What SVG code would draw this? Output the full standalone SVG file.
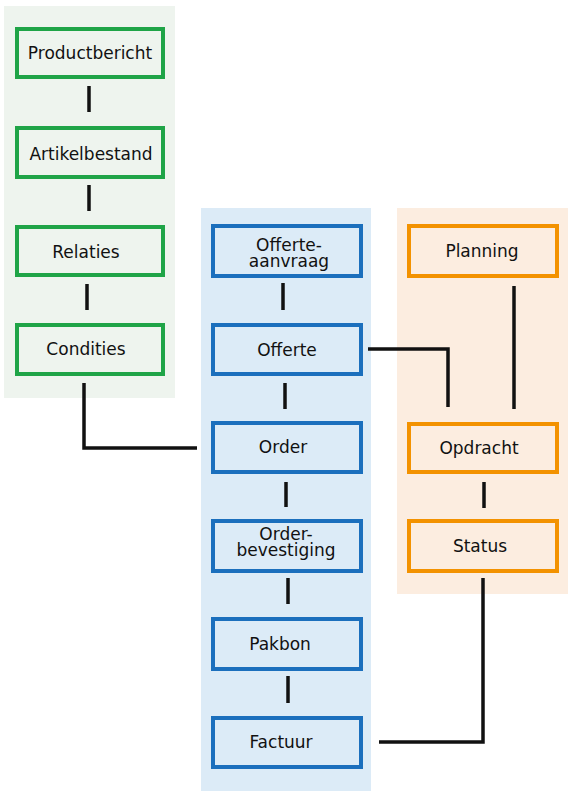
<svg xmlns="http://www.w3.org/2000/svg" width="582" height="799" viewBox="0 0 582 799">
<style>
text{font-family:"DejaVu Sans","Verdana",sans-serif;font-size:17px;fill:#111;text-anchor:middle}
.g rect{fill:none;stroke:#1fa447;stroke-width:4}
.b rect{fill:none;stroke:#1b6fbd;stroke-width:4}
.o rect{fill:none;stroke:#f39200;stroke-width:4}
#connectors path{fill:none;stroke:#111;stroke-width:3.5}
</style>
<rect width="582" height="799" fill="#fff"/>
<g id="panels">
<rect x="4" y="6" width="171" height="392" fill="#eef4ee"/>
<rect x="201" y="208" width="170" height="583" fill="#dcebf7"/>
<rect x="397" y="208" width="171" height="386" fill="#fcede0"/>
</g>
<g id="connectors">
<path d="M89,86V112"/>
<path d="M89,185V211"/>
<path d="M87,284V310"/>
<path d="M84,383V448H197"/>
<path d="M283,283V310"/>
<path d="M285,383V409"/>
<path d="M286,482V507"/>
<path d="M288,578V604"/>
<path d="M288,676V703"/>
<path d="M368,349H448V407"/>
<path d="M514,286V409"/>
<path d="M484,482V508"/>
<path d="M483,578V742H379"/>
</g>
<g id="productbericht" class="g"><rect x="17" y="29" width="146" height="48"/><text x="90" y="59">Productbericht</text></g>
<g id="artikelbestand" class="g"><rect x="17" y="128" width="146" height="49"/><text x="91" y="160">Artikelbestand</text></g>
<g id="relaties" class="g"><rect x="17" y="227" width="146" height="48"/><text x="86" y="258">Relaties</text></g>
<g id="condities" class="g"><rect x="17" y="325" width="146" height="49"/><text x="86" y="355">Condities</text></g>
<g id="offerte-aanvraag" class="b"><rect x="213" y="226" width="148" height="50"/><text x="289" y="251">Offerte-</text><text x="289" y="267">aanvraag</text></g>
<g id="offerte" class="b"><rect x="213" y="325" width="148" height="49"/><text x="287" y="356">Offerte</text></g>
<g id="order" class="b"><rect x="213" y="423" width="148" height="49"/><text x="283" y="453">Order</text></g>
<g id="orderbevestiging" class="b"><rect x="213" y="521" width="148" height="50"/><text x="286" y="540">Order-</text><text x="286" y="556">bevestiging</text></g>
<g id="pakbon" class="b"><rect x="213" y="619" width="148" height="50"/><text x="280" y="650">Pakbon</text></g>
<g id="factuur" class="b"><rect x="213" y="718" width="148" height="49"/><text x="281" y="748">Factuur</text></g>
<g id="planning" class="o"><rect x="409" y="226" width="148" height="50"/><text x="482" y="257">Planning</text></g>
<g id="opdracht" class="o"><rect x="409" y="424" width="148" height="48"/><text x="479" y="454">Opdracht</text></g>
<g id="status" class="o"><rect x="409" y="521" width="148" height="50"/><text x="480" y="552">Status</text></g>
</svg>
